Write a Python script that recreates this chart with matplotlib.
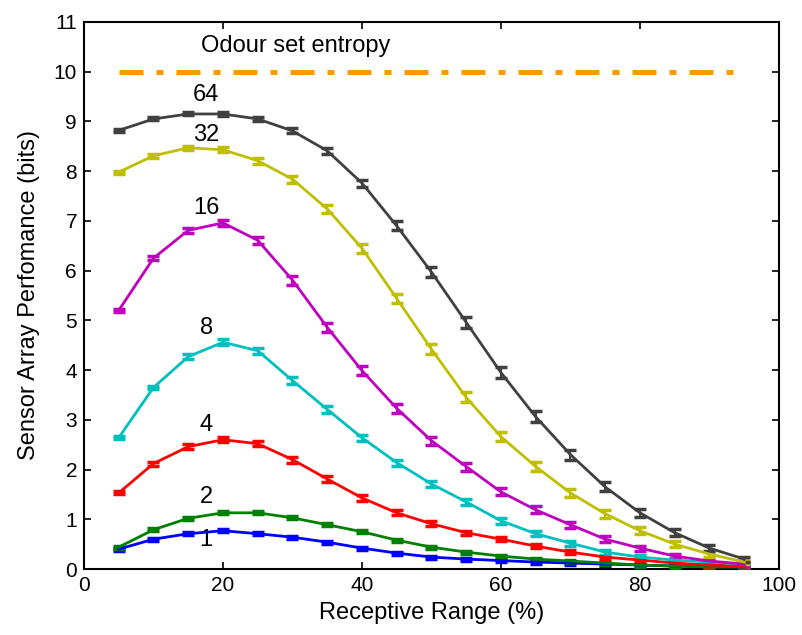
import numpy as np
import matplotlib
matplotlib.use("Agg")
import matplotlib.pyplot as plt

plt.rcParams['font.family'] = ['Liberation Sans', 'DejaVu Sans']

# receptive range (%) sampled at 5% steps
receptive_range = [5, 10, 15, 20, 25, 30, 35, 40, 45, 50,
                   55, 60, 65, 70, 75, 80, 85, 90, 95]

perf_1 = [0.40, 0.60, 0.71, 0.77, 0.71, 0.64, 0.54, 0.42, 0.32, 0.24,
          0.20, 0.17, 0.14, 0.12, 0.10, 0.08, 0.06, 0.05, 0.04]
perf_2 = [0.44, 0.79, 1.02, 1.13, 1.13, 1.03, 0.89, 0.75, 0.58, 0.44,
          0.34, 0.26, 0.20, 0.16, 0.12, 0.08, 0.06, 0.04, 0.04]
perf_4 = [1.53, 2.12, 2.46, 2.60, 2.52, 2.20, 1.81, 1.43, 1.13, 0.91,
          0.73, 0.60, 0.46, 0.34, 0.24, 0.18, 0.12, 0.08, 0.06]
perf_8 = [2.64, 3.65, 4.27, 4.56, 4.39, 3.79, 3.21, 2.64, 2.14, 1.71,
          1.35, 0.97, 0.71, 0.52, 0.34, 0.24, 0.18, 0.14, 0.10]
perf_16 = [5.20, 6.25, 6.81, 6.96, 6.61, 5.81, 4.86, 3.99, 3.23, 2.58,
           2.06, 1.55, 1.19, 0.89, 0.60, 0.42, 0.26, 0.16, 0.10]
perf_32 = [7.98, 8.31, 8.47, 8.43, 8.21, 7.84, 7.24, 6.45, 5.44, 4.42,
           3.45, 2.66, 2.06, 1.53, 1.11, 0.77, 0.50, 0.30, 0.14]
perf_64 = [8.82, 9.05, 9.15, 9.15, 9.05, 8.81, 8.41, 7.76, 6.90, 5.97,
           4.96, 3.95, 3.06, 2.30, 1.65, 1.13, 0.73, 0.42, 0.20]

# standard errors (small, read from the cap spread)
err_1 = [0.03] * 19
err_2 = [0.03] * 19
err_4 = [0.03, 0.04, 0.05, 0.05, 0.05, 0.06, 0.06, 0.06, 0.05, 0.05,
         0.04, 0.04, 0.04, 0.04, 0.03, 0.03, 0.03, 0.03, 0.03]
err_8 = [0.03, 0.04, 0.05, 0.06, 0.06, 0.07, 0.07, 0.06, 0.06, 0.06,
         0.06, 0.06, 0.05, 0.05, 0.05, 0.04, 0.04, 0.03, 0.03]
err_16 = [0.03, 0.04, 0.05, 0.06, 0.07, 0.09, 0.09, 0.09, 0.09, 0.08,
          0.08, 0.07, 0.07, 0.06, 0.06, 0.05, 0.05, 0.04, 0.04]
err_32 = [0.03, 0.04, 0.04, 0.05, 0.06, 0.07, 0.08, 0.09, 0.10, 0.10,
          0.10, 0.09, 0.09, 0.08, 0.08, 0.07, 0.06, 0.05, 0.04]
err_64 = [0.03, 0.03, 0.03, 0.04, 0.04, 0.05, 0.06, 0.07, 0.09, 0.10,
          0.11, 0.11, 0.11, 0.10, 0.09, 0.08, 0.07, 0.06, 0.05]

series_labels = ['1', '2', '4', '8', '16', '32', '64']
label_x = [17.6, 17.6, 17.6, 17.6, 17.6, 17.6, 17.6]
label_y = [0.58, 1.45, 2.90, 4.85, 7.26, 8.73, 9.54]

entropy_level = 10.0
entropy_label = 'Odour set entropy'

perf = [perf_1, perf_2, perf_4, perf_8, perf_16, perf_32, perf_64]
errs = [err_1, err_2, err_4, err_8, err_16, err_32, err_64]
colors = ['#0000ff', '#008000', '#ff0000', '#00bfbf', '#bf00bf',
          '#bfbf00', '#404040']

fig = plt.figure(figsize=(8.02, 6.35), dpi=100)
ax = fig.add_axes([0.1047, 0.1039, 0.8666, 0.8615])

for y, e, c in zip(perf, errs, colors):
    ax.errorbar(receptive_range, y, yerr=e, color=c, linewidth=2.0,
                elinewidth=1.5, capsize=4.5, capthick=2.5, zorder=3)

ax.plot([receptive_range[0], receptive_range[-1]], [entropy_level] * 2,
        color='#ff9900', linewidth=3.6,
        linestyle=(0, (4.8, 2.6, 1.4, 2.6)), solid_capstyle='butt')
ax.text(30.4, 10.51, entropy_label, fontsize=17, ha='center', va='center')

for lab, lx, ly in zip(series_labels, label_x, label_y):
    ax.text(lx, ly, lab, fontsize=17, ha='center', va='center')

ax.set_xlim(0, 100)
ax.set_ylim(0, 11)
ax.set_xticks([0, 20, 40, 60, 80, 100])
ax.set_yticks(range(0, 12))
ax.tick_params(direction='in', top=True, right=True, labelsize=15,
               length=5, width=1.2, pad=5)
for s in ax.spines.values():
    s.set_linewidth(1.5)

ax.set_xlabel('Receptive Range (%)', fontsize=17, labelpad=5)
ax.set_ylabel('Sensor Array Perfomance (bits)', fontsize=17, labelpad=10)

fig.savefig('out.png', dpi=100)
